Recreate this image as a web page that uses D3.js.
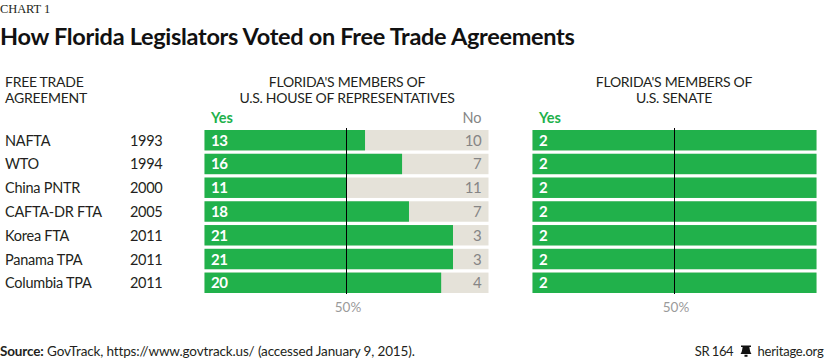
<!DOCTYPE html>
<html>
<head>
<meta charset="utf-8">
<script src="https://cdn.jsdelivr.net/npm/d3@7"></script>
<style>
  html, body { margin: 0; padding: 0; background: #fff; }
  svg { display: block; }
  text { font-family: Lato, sans-serif; }
  .axis .domain { display: none; }
</style>
</head>
<body>
<svg id="chart"></svg>
<script>
const agreements = ['NAFTA', 'WTO', 'China PNTR', 'CAFTA-DR FTA', 'Korea FTA', 'Panama TPA', 'Columbia TPA'];
const years = ['1993', '1994', '2000', '2005', '2011', '2011', '2011'];
const houseYes = [13, 16, 11, 18, 21, 21, 20];
const houseNo = [10, 7, 11, 7, 3, 3, 4];
const senateYes = [2, 2, 2, 2, 2, 2, 2];
const senateNo = [0, 0, 0, 0, 0, 0, 0];

const green = '#21b14b';
const beige = '#e5e2d9';
const grey = '#858585';
const dark = '#231f20';

const svg = d3.select('#chart').attr('width', 825).attr('height', 360);

const yScale = d3.scaleBand()
    .domain(agreements)
    .range([130, 293])
    .paddingInner(0.14);

function addText(x, y, str, size, opts = {}) {
    return svg.append('text')
        .attr('x', x)
        .attr('y', y)
        .attr('font-size', size)
        .attr('font-weight', opts.weight || 400)
        .attr('fill', opts.fill || dark)
        .attr('text-anchor', opts.anchor || 'start')
        .attr('letter-spacing', opts.spacing || 0)
        .text(str);
}

const rowBaseline = d => yScale(d) + yScale.bandwidth() / 2 + 5.5;

function drawPanel(x0, x1, yes, no) {
    const xScale = d3.scaleLinear().domain([0, 1]).range([x0, x1]);
    const share = i => yes[i] / (yes[i] + no[i]);
    const g = svg.append('g');

    g.selectAll('.back')
        .data(agreements)
        .enter()
        .append('rect')
        .attr('class', 'back')
        .attr('x', xScale(0))
        .attr('y', d => yScale(d))
        .attr('width', xScale(1) - xScale(0))
        .attr('height', yScale.bandwidth())
        .attr('fill', beige);

    g.selectAll('.yes')
        .data(agreements)
        .enter()
        .append('rect')
        .attr('class', 'yes')
        .attr('x', xScale(0))
        .attr('y', d => yScale(d))
        .attr('width', (d, i) => xScale(share(i)) - xScale(0))
        .attr('height', yScale.bandwidth())
        .attr('fill', green);

    g.selectAll('.yes-label')
        .data(yes)
        .enter()
        .append('text')
        .attr('class', 'yes-label')
        .attr('x', xScale(0) + 6.5)
        .attr('y', (d, i) => rowBaseline(agreements[i]))
        .attr('font-size', 15)
        .attr('font-weight', 700)
        .attr('letter-spacing', -0.5)
        .attr('fill', '#fff')
        .text(d => d);

    g.selectAll('.no-label')
        .data(no.filter(d => d > 0))
        .enter()
        .append('text')
        .attr('class', 'no-label')
        .attr('x', xScale(1) - 7)
        .attr('y', (d, i) => rowBaseline(agreements[i]))
        .attr('font-size', 15)
        .attr('letter-spacing', -0.3)
        .attr('fill', grey)
        .attr('text-anchor', 'end')
        .text(d => d);

    // 50% marker is the axis tick itself
    const axis = d3.axisBottom(xScale)
        .tickValues([0.5])
        .tickFormat(d3.format('.0%'))
        .tickSize(166)
        .tickPadding(8)
        .offset(0);

    const axisGroup = svg.append('g')
        .attr('class', 'axis')
        .attr('transform', 'translate(0,128)')
        .call(axis);
    axisGroup.select('.tick line').attr('stroke', '#000').attr('stroke-width', 1);
    axisGroup.select('.tick text')
        .attr('dx', 1.5)
        .attr('font-family', 'Lato, sans-serif')
        .attr('font-size', 13.5)
        .attr('fill', '#9a9a9a');

    addText(xScale(0) + 6.5, 123, 'Yes', 14.5, {weight: 700, fill: green});
}

drawPanel(204.5, 488.5, houseYes, houseNo);
drawPanel(532.5, 816.5, senateYes, senateNo);

addText(481.5, 123, 'No', 14.5, {fill: grey, anchor: 'end'});

// headings
addText(0, 13, 'CHART 1', 12.5, {spacing: -0.1}).style('font-family', '"Liberation Serif", serif');
addText(0, 45, 'How Florida Legislators Voted on Free Trade Agreements', 23.5, {weight: 700, fill: '#111', spacing: -0.3});
const headSpacing = -0.28;
addText(5, 87, 'FREE TRADE', 14, {spacing: headSpacing});
addText(5, 103, 'AGREEMENT', 14, {spacing: headSpacing});
addText(347, 87, "FLORIDA'S MEMBERS OF", 14, {anchor: 'middle', spacing: headSpacing});
addText(347, 103, 'U.S. HOUSE OF REPRESENTATIVES', 14, {anchor: 'middle', spacing: headSpacing});
addText(674, 87, "FLORIDA'S MEMBERS OF", 14, {anchor: 'middle', spacing: headSpacing});
addText(674, 103, 'U.S. SENATE', 14, {anchor: 'middle', spacing: headSpacing});

// row labels
svg.selectAll('.agreement')
    .data(agreements)
    .enter()
    .append('text')
    .attr('class', 'agreement')
    .attr('x', 5)
    .attr('y', rowBaseline)
    .attr('font-size', 14.5)
    .attr('letter-spacing', -0.25)
    .attr('fill', dark)
    .text(d => d);

svg.selectAll('.year')
    .data(years)
    .enter()
    .append('text')
    .attr('class', 'year')
    .attr('x', 130)
    .attr('y', (d, i) => rowBaseline(agreements[i]))
    .attr('font-size', 14.5)
    .attr('letter-spacing', -0.3)
    .attr('fill', dark)
    .text(d => d);

// footer
const source = addText(0, 356, '', 13.5, {spacing: -0.14});
source.append('tspan').attr('font-weight', 700).text('Source:');
source.append('tspan').text(' GovTrack, https://www.govtrack.us/ (accessed January 9, 2015).');

addText(733, 356, 'SR 164', 13, {anchor: 'end', spacing: -0.5});
addText(823.5, 356, 'heritage.org', 13, {anchor: 'end', spacing: -0.2});

// bell mark
svg.append('path')
    .attr('transform', 'translate(740,345)')
    .attr('d', 'M1 0.5 H11 V2 H9.4 C9.8 5.5 10.4 7.5 11.5 9 H0.5 C1.6 7.5 2.2 5.5 2.6 2 H1 Z M4.5 9.8 H7.5 V11.8 H4.5 Z')
    .attr('fill', '#111');
</script>
</body>
</html>
